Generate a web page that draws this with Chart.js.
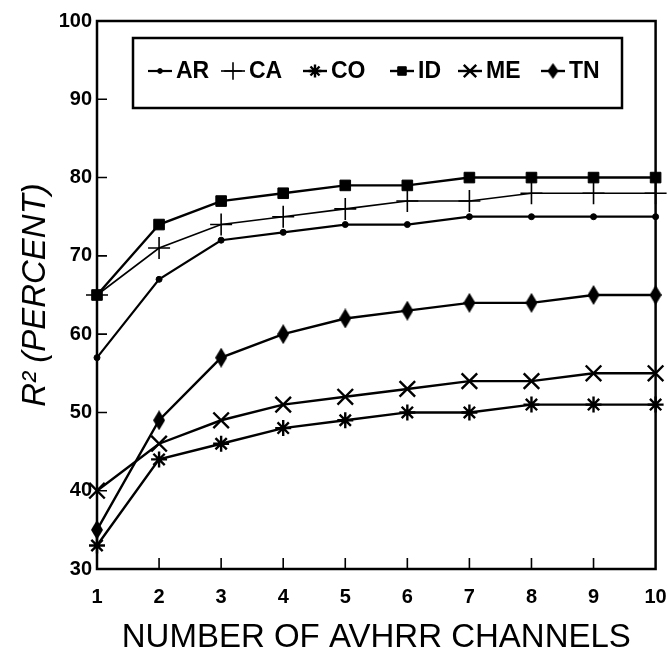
<!DOCTYPE html>
<html>
<head>
<meta charset="utf-8">
<script src="https://cdn.jsdelivr.net/npm/chart.js@4.4.0/dist/chart.umd.min.js"></script>
<style>
  html, body { margin: 0; padding: 0; background: #fff; }
  #wrap { width: 669px; height: 656px; }
</style>
</head>
<body>
<div id="wrap"><canvas id="chart"></canvas></div>
<script>
// datos
const channels = [1, 2, 3, 4, 5, 6, 7, 8, 9, 10];
const yTicks = [30, 40, 50, 60, 70, 80, 90, 100];

const arValues = [57, 67, 72, 73, 74, 74, 75, 75, 75, 75];
const caValues = [65, 71, 74, 75, 76, 77, 77, 78, 78, 78];
const coValues = [33, 44, 46, 48, 49, 50, 50, 51, 51, 51];
const idValues = [65, 74, 77, 78, 79, 79, 80, 80, 80, 80];
const meValues = [40, 46, 49, 51, 52, 53, 54, 54, 55, 55];
const tnValues = [35, 49, 57, 60, 62, 63, 64, 64, 65, 65];

const seriesNames = ['AR', 'CA', 'CO', 'ID', 'ME', 'TN'];

const tickFont = { family: "'Liberation Sans', Arial, sans-serif", size: 20, weight: 'bold' };

// rombo alargado para TN
function makeDiamond(w, h) {
    const c = document.createElement('canvas');
    c.width = w; c.height = h;
    const g = c.getContext('2d');
    g.fillStyle = '#000';
    g.beginPath();
    g.moveTo(w / 2, 0);
    g.lineTo(w, h / 2);
    g.lineTo(w / 2, h);
    g.lineTo(0, h / 2);
    g.closePath();
    g.fill();
    return c;
}
const diamond = makeDiamond(12, 20);
const diamondSmall = makeDiamond(11, 16);

function serie(label, data, style, radius, lineW, markW) {
    return {
        label: label,
        data: data,
        borderColor: '#000',
        backgroundColor: '#000',
        borderWidth: lineW,
        pointStyle: style,
        pointRadius: radius,
        pointHoverRadius: radius,
        pointBorderWidth: markW,
        pointBorderColor: '#000',
        pointBackgroundColor: '#000',
        tension: 0,
        clip: false
    };
}

const datasets = [
    serie(seriesNames[0], arValues, 'circle', 3, 2.2, 1),
    serie(seriesNames[1], caValues, 'cross', 11, 1.6, 1.6),
    serie(seriesNames[2], coValues, 'star', 8, 2.4, 2.4),
    serie(seriesNames[3], idValues, 'rect', 7.5, 2.4, 1),
    serie(seriesNames[4], meValues, 'crossRot', 11, 2.4, 2.4),
    serie(seriesNames[5], tnValues, diamond, 10, 2.4, 0)
];

// marco, marcas hacia dentro y leyenda
const framePlugin = {
    id: 'frame',
    afterDraw(chart) {
        const ctx = chart.ctx;
        const a = chart.chartArea;
        const x = chart.scales.x, y = chart.scales.y;
        ctx.save();
        ctx.strokeStyle = '#000';
        ctx.lineWidth = 2.5;
        ctx.strokeRect(a.left, a.top, a.right - a.left, a.bottom - a.top);

        ctx.lineWidth = 1.6;
        ctx.beginPath();
        yTicks.slice(1, -1).forEach(v => {
            const py = y.getPixelForValue(v);
            ctx.moveTo(a.left, py);
            ctx.lineTo(a.left + 10, py);
        });
        channels.slice(1, -1).forEach((c, i) => {
            const px = x.getPixelForValue(i + 1);
            ctx.moveTo(px, a.bottom);
            ctx.lineTo(px, a.bottom - 11);
        });
        ctx.stroke();

        // leyenda
        const box = { left: 133, top: 38, right: 622, bottom: 108 };
        ctx.lineWidth = 2.5;
        ctx.strokeRect(box.left, box.top, box.right - box.left, box.bottom - box.top);
        const centers = [160, 233, 315, 402, 470, 553];
        const ly = 71;
        ctx.font = "bold 23px 'Liberation Sans', Arial, sans-serif";
        ctx.textBaseline = 'middle';
        ctx.textAlign = 'left';
        chart.data.datasets.forEach((ds, i) => {
            const cx = centers[i];
            ctx.strokeStyle = '#000';
            ctx.fillStyle = '#000';
            ctx.lineWidth = ds.borderWidth;
            ctx.beginPath();
            ctx.moveTo(cx - 12, ly);
            ctx.lineTo(cx + 12, ly);
            ctx.stroke();
            ctx.lineWidth = ds.pointBorderWidth;
            const style = ds.pointStyle === diamond ? diamondSmall : ds.pointStyle;
            Chart.helpers.drawPoint(ctx, {
                pointStyle: style,
                radius: ds.pointRadius * 0.8,
                borderWidth: ds.pointBorderWidth,
                rotation: 0
            }, cx, ly);
            ctx.fillStyle = '#000';
            ctx.fillText(ds.label, cx + 16, ly + 1);
        });
        ctx.restore();
    }
};

const ctx = document.getElementById('chart').getContext('2d');
new Chart(ctx, {
    type: 'line',
    data: { labels: channels, datasets: datasets },
    options: {
        responsive: true,
        maintainAspectRatio: false,
        animation: false,
        layout: { padding: { top: 21, right: 0, left: 0, bottom: 0 } },
        plugins: {
            legend: { display: false },
            tooltip: { enabled: false }
        },
        scales: {
            x: {
                offset: false,
                grid: { display: false, drawTicks: false },
                border: { display: false },
                ticks: { color: '#000', font: tickFont, padding: 16, maxRotation: 0, autoSkip: false },
                title: {
                    display: true,
                    text: 'NUMBER OF AVHRR CHANNELS',
                    color: '#000',
                    font: { family: "'Liberation Sans', Arial, sans-serif", size: 33, lineHeight: 1.1 },
                    padding: { top: 0, bottom: 0 }
                },
                afterFit(scale) {
                    scale.height = 87;
                    scale.paddingLeft = 0;
                    scale.paddingRight = 13;
                }
            },
            y: {
                min: 30,
                max: 100,
                grid: { display: false, drawTicks: false },
                border: { display: false },
                ticks: { color: '#000', font: tickFont, padding: 5, stepSize: 10 },
                title: {
                    display: true,
                    text: 'R² (PERCENT)',
                    color: '#000',
                    font: { family: "'Liberation Sans', Arial, sans-serif", size: 33, style: 'italic', lineHeight: 1.1 },
                    padding: { top: 18, bottom: 0 }
                },
                afterFit(scale) { scale.width = 97; }
            }
        }
    },
    plugins: [framePlugin]
});
</script>
</body>
</html>
